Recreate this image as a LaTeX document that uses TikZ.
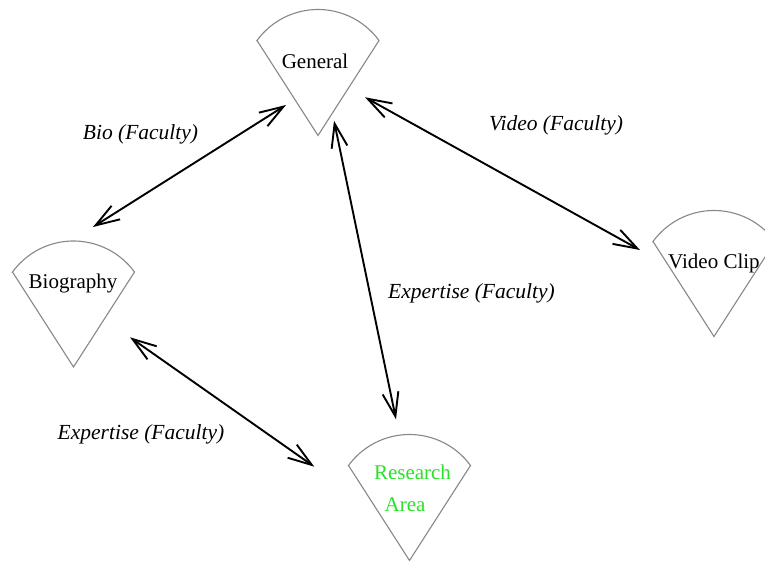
\documentclass[tikz,border=0pt]{standalone}
\usepackage{fontspec}
\setmainfont{Liberation Serif}
\usetikzlibrary{arrows.meta}
\definecolor{conegray}{RGB}{135,135,135}
\definecolor{areagreen}{RGB}{40,225,40}
\tikzset{
  x=1pt, y=1pt,
  coneline/.style={draw=conegray, line width=1.1pt, line join=miter},
  conetext/.style={font=\fontsize{21}{24}\selectfont, inner sep=0pt, text depth=0pt},
  relation/.style={font=\fontsize{21.5}{24}\selectfont\itshape, inner sep=0pt},
  link/.style={line width=1.9pt, black,
    {Straight Barb[length=24pt, width=16pt, line width=1.9pt]}-{Straight Barb[length=24pt, width=16pt, line width=1.9pt]}},
}
% a downward cone: two straight sides meeting at the apex, closed by an arc
\newcommand\drawcone[1]{%
  \draw[coneline] ([shift={(-61,0)}]#1) -- ++(61,-95) -- ++(61,95)
    arc[start angle=36.1, end angle=143.9, radius=75.5] -- cycle;}
\begin{document}
\begin{tikzpicture}
\useasboundingbox (0,0) rectangle (765,-561);
\begin{scope}
\clip (0,0) rectangle (765,-561);

% reference points: midpoint of the two upper corners of each cone
\coordinate (gen) at (318,-40.5);
\coordinate (bio) at (73.5,-272);
\coordinate (vid) at (714,-241.5);
\coordinate (res) at (409.5,-465.5);

\drawcone{gen}
\drawcone{bio}
\drawcone{vid}
\drawcone{res}

\node[conetext, anchor=base] (genT) at (315,-69) {General};
\node[conetext, anchor=base] (bioT) at (73,-288) {Biography};
\node[conetext, anchor=base west] (vidT) at (668,-269) {Video Clip};
\node[conetext, anchor=base, text=areagreen] (resT) at (412.5,-479.5) {Research};
\node[conetext, anchor=base, text=areagreen] (resT2) at (405,-511) {Area};

% relations
\draw[link] ([shift={(19.5,45)}]bio) -- ([shift={(-32,-64.5)}]gen);
\draw[link] ([shift={(47,-56.8)}]gen) -- ([shift={(-74,-8.5)}]vid);
\draw[link] ([shift={(16,-80.2)}]gen) -- ([shift={(-13.5,46.2)}]res);
\draw[link] ([shift={(56.5,-65.3)}]bio) -- ([shift={(-95.2,-1.2)}]res);

\node[relation] (lbio) at (140.5,-134) {Bio (Faculty)};
\node[relation] (lvid) at (556,-125) {Video (Faculty)};
\node[relation] (lexp1) at (471.5,-293) {Expertise (Faculty)};
\node[relation] (lexp2) at (141,-434) {Expertise (Faculty)};
\end{scope}
\end{tikzpicture}
\end{document}
